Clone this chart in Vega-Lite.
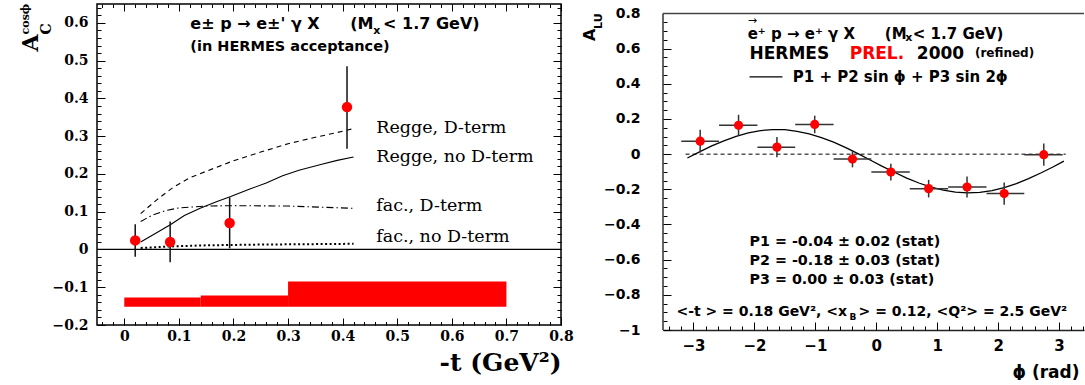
{
  "$schema": "https://vega.github.io/schema/vega-lite/v6.json",
  "background": "white",
  "padding": {"left": 19, "top": 2, "right": 0, "bottom": 0},
  "autosize": {"type": "pad"},
  "bounds": "flush",
  "spacing": 102,
  "config": {
    "font": "DejaVu Sans",
    "view": {"stroke": null},
    "axis": {"grid": false, "tickColor": "#000", "domainColor": "#222", "labelColor": "#000", "titleColor": "#000", "labelFlush": false, "labelOverlap": false, "labelBound": false}
  },
  "datasets": {
    "leftPts": [
      {"t": 0.020, "A": 0.024, "lo": -0.019, "hi": 0.067},
      {"t": 0.084, "A": 0.020, "lo": -0.034, "hi": 0.074},
      {"t": 0.193, "A": 0.070, "lo": 0.003, "hi": 0.138},
      {"t": 0.408, "A": 0.377, "lo": 0.267, "hi": 0.485}
    ],
    "band": [
      {"t0": 0, "t1": 0.14, "lo": -0.152, "hi": -0.127},
      {"t0": 0.14, "t1": 0.3, "lo": -0.152, "hi": -0.122},
      {"t0": 0.3, "t1": 0.7, "lo": -0.152, "hi": -0.085}
    ],
    "curves": [
      {"model": "Regge, D-term", "t": 0.03, "A": 0.095},
      {"model": "Regge, D-term", "t": 0.06, "A": 0.132},
      {"model": "Regge, D-term", "t": 0.09, "A": 0.165},
      {"model": "Regge, D-term", "t": 0.12, "A": 0.19},
      {"model": "Regge, D-term", "t": 0.15, "A": 0.207},
      {"model": "Regge, D-term", "t": 0.2, "A": 0.235},
      {"model": "Regge, D-term", "t": 0.25, "A": 0.258},
      {"model": "Regge, D-term", "t": 0.3, "A": 0.28},
      {"model": "Regge, D-term", "t": 0.35, "A": 0.297},
      {"model": "Regge, D-term", "t": 0.4, "A": 0.313},
      {"model": "Regge, D-term", "t": 0.42, "A": 0.32},
      {"model": "Regge, no D-term", "t": 0.03, "A": 0.02},
      {"model": "Regge, no D-term", "t": 0.06, "A": 0.045},
      {"model": "Regge, no D-term", "t": 0.085, "A": 0.066},
      {"model": "Regge, no D-term", "t": 0.11, "A": 0.09},
      {"model": "Regge, no D-term", "t": 0.14, "A": 0.11},
      {"model": "Regge, no D-term", "t": 0.17, "A": 0.127},
      {"model": "Regge, no D-term", "t": 0.195, "A": 0.14},
      {"model": "Regge, no D-term", "t": 0.23, "A": 0.16},
      {"model": "Regge, no D-term", "t": 0.26, "A": 0.176},
      {"model": "Regge, no D-term", "t": 0.29, "A": 0.195},
      {"model": "Regge, no D-term", "t": 0.32, "A": 0.21},
      {"model": "Regge, no D-term", "t": 0.36, "A": 0.225},
      {"model": "Regge, no D-term", "t": 0.39, "A": 0.236},
      {"model": "Regge, no D-term", "t": 0.42, "A": 0.245},
      {"model": "fac., D-term", "t": 0.03, "A": 0.074},
      {"model": "fac., D-term", "t": 0.05, "A": 0.09},
      {"model": "fac., D-term", "t": 0.075, "A": 0.103},
      {"model": "fac., D-term", "t": 0.1, "A": 0.11},
      {"model": "fac., D-term", "t": 0.15, "A": 0.115},
      {"model": "fac., D-term", "t": 0.2, "A": 0.116},
      {"model": "fac., D-term", "t": 0.3, "A": 0.115},
      {"model": "fac., D-term", "t": 0.36, "A": 0.112},
      {"model": "fac., D-term", "t": 0.42, "A": 0.109},
      {"model": "fac., no D-term", "t": 0.03, "A": 0.004},
      {"model": "fac., no D-term", "t": 0.085, "A": 0.008},
      {"model": "fac., no D-term", "t": 0.15, "A": 0.011},
      {"model": "fac., no D-term", "t": 0.25, "A": 0.013},
      {"model": "fac., no D-term", "t": 0.42, "A": 0.015}
    ],
    "leftLabels": [
      {"x": 0.4615, "y": 0.321, "label": "Regge, D-term"},
      {"x": 0.4615, "y": 0.244, "label": "Regge, no D-term"},
      {"x": 0.4615, "y": 0.114, "label": "fac., D-term"},
      {"x": 0.4615, "y": 0.034, "label": "fac., no D-term"}
    ],
    "leftTitle": [
      {"x": 0.121, "y": 0.596, "label": "e± p → e±' γ X"},
      {"x": 0.414, "y": 0.596, "label": "(M"},
      {"x": 0.474, "y": 0.596, "label": "< 1.7 GeV)"}
    ],
    "leftSub": [{"x": 0.456, "y": 0.578, "label": "x"}],
    "leftTitle2": [{"x": 0.121, "y": 0.535, "label": "(in HERMES acceptance)"}],
    "leftYA": [{"x": -0.1575, "y": 0.5245, "label": "A"}],
    "leftYC": [{"x": -0.1337, "y": 0.5695, "label": "C"}],
    "leftYcos": [{"x": -0.174, "y": 0.5695, "label": "cosϕ"}],
    "rightPts": [
      {"phi": -2.89, "A": 0.074, "lo": 0.009, "hi": 0.139, "p0": -3.20, "p1": -2.58},
      {"phi": -2.26, "A": 0.164, "lo": 0.104, "hi": 0.224, "p0": -2.58, "p1": -1.95},
      {"phi": -1.63, "A": 0.040, "lo": -0.018, "hi": 0.098, "p0": -1.95, "p1": -1.33},
      {"phi": -1.01, "A": 0.169, "lo": 0.119, "hi": 0.219, "p0": -1.33, "p1": -0.70},
      {"phi": -0.39, "A": -0.028, "lo": -0.075, "hi": 0.020, "p0": -0.70, "p1": -0.08},
      {"phi": 0.24, "A": -0.102, "lo": -0.150, "hi": -0.054, "p0": -0.08, "p1": 0.55},
      {"phi": 0.86, "A": -0.196, "lo": -0.246, "hi": -0.146, "p0": 0.55, "p1": 1.18},
      {"phi": 1.49, "A": -0.187, "lo": -0.247, "hi": -0.127, "p0": 1.18, "p1": 1.81},
      {"phi": 2.10, "A": -0.224, "lo": -0.287, "hi": -0.161, "p0": 1.81, "p1": 2.43},
      {"phi": 2.75, "A": -0.003, "lo": -0.066, "hi": 0.060, "p0": 2.43, "p1": 3.06}
    ],
    "fit": [
      {"phi": -3.1, "A": -0.022}, {"phi": -2.9, "A": 0.013}, {"phi": -2.7, "A": 0.047},
      {"phi": -2.5, "A": 0.076}, {"phi": -2.3, "A": 0.101}, {"phi": -2.1, "A": 0.121},
      {"phi": -1.9, "A": 0.134}, {"phi": -1.7, "A": 0.140}, {"phi": -1.5, "A": 0.139},
      {"phi": -1.3, "A": 0.130}, {"phi": -1.1, "A": 0.115}, {"phi": -0.9, "A": 0.094},
      {"phi": -0.7, "A": 0.068}, {"phi": -0.5, "A": 0.037}, {"phi": -0.3, "A": 0.003},
      {"phi": -0.1, "A": -0.033}, {"phi": 0.1, "A": -0.069}, {"phi": 0.3, "A": -0.103},
      {"phi": 0.5, "A": -0.136}, {"phi": 0.7, "A": -0.164}, {"phi": 0.9, "A": -0.188},
      {"phi": 1.1, "A": -0.205}, {"phi": 1.3, "A": -0.216}, {"phi": 1.5, "A": -0.220},
      {"phi": 1.7, "A": -0.217}, {"phi": 1.9, "A": -0.207}, {"phi": 2.1, "A": -0.190},
      {"phi": 2.3, "A": -0.167}, {"phi": 2.5, "A": -0.139}, {"phi": 2.7, "A": -0.107},
      {"phi": 2.9, "A": -0.073}, {"phi": 3.08, "A": -0.040}
    ],
    "rLine1": [
      {"x": -2.11, "y": 0.681, "label": "e⁺ p → e⁺ γ X"},
      {"x": 0.14, "y": 0.681, "label": "(M"},
      {"x": 0.60, "y": 0.681, "label": "< 1.7 GeV)"}
    ],
    "rSub": [{"x": 0.475, "y": 0.661, "label": "x"}],
    "rArrow": [{"x": -2.11, "y": 0.758, "label": "→"}],
    "rLine2": [
      {"x": -2.08, "y": 0.570, "label": "HERMES"},
      {"x": 0.666, "y": 0.570, "label": "2000"}
    ],
    "rPrel": [{"x": -0.436, "y": 0.570, "label": "PREL."}],
    "rRefined": [{"x": 1.62, "y": 0.575, "label": "(refined)"}],
    "rLegend": [{"x": -1.37, "y": 0.439, "label": "P1 + P2 sin ϕ + P3 sin 2ϕ"}],
    "rParams": [
      {"x": -2.08, "y": -0.502, "label": "P1 = -0.04 ± 0.02 (stat)"},
      {"x": -2.08, "y": -0.605, "label": "P2 = -0.18 ± 0.03 (stat)"},
      {"x": -2.08, "y": -0.713, "label": "P3 =  0.00 ± 0.03 (stat)"}
    ],
    "rBottom": [
      {"x": -3.28, "y": -0.899, "label": "<-t > = 0.18 GeV², <x"},
      {"x": -0.29, "y": -0.899, "label": "> = 0.12, <Q²> = 2.5 GeV²"}
    ],
    "rBottomSub": [{"x": -0.44, "y": -0.925, "label": "B"}],
    "rYA": [{"x": -4.611, "y": 0.644, "label": "A"}],
    "rYLU": [{"x": -4.496, "y": 0.712, "label": "LU"}]
  },
  "hconcat": [
    {
      "width": 464,
      "height": 321,
      "view": {"stroke": "#000", "strokeWidth": 1.5},
      "resolve": {"axis": {"x": "independent", "y": "independent"}},
      "layer": [
        {
          "data": {"name": "band"},
          "mark": {"type": "rect", "color": "#ff0000"},
          "encoding": {
            "x": {"field": "t0", "type": "quantitative", "scale": {"domain": [-0.05, 0.8], "nice": false, "zero": false},
              "axis": {"orient": "bottom", "values": [0, 0.1, 0.2, 0.3, 0.4, 0.5, 0.6, 0.7, 0.8], "format": "~g", "domain": false, "tickSize": -7, "tickWidth": 1, "labelFont": "DejaVu Serif", "labelFontWeight": "bold", "labelFontSize": 14, "labelPadding": 11, "title": "-t (GeV²)", "titleFont": "DejaVu Serif", "titleFontWeight": "bold", "titleFontSize": 25, "titleAlign": "right", "titleBaseline": "alphabetic", "titleX": 464, "titleY": 45, "titleAngle": 0}},
            "x2": {"field": "t1"},
            "y": {"field": "lo", "type": "quantitative", "scale": {"domain": [-0.2, 0.65], "nice": false, "zero": false},
              "axis": {"orient": "left", "values": [-0.2, -0.1, 0, 0.1, 0.2, 0.3, 0.4, 0.5, 0.6], "format": "~g", "domain": false, "tickSize": -8, "tickWidth": 1, "labelFont": "DejaVu Serif", "labelFontWeight": "bold", "labelFontSize": 14, "labelPadding": 17, "title": null}},
            "y2": {"field": "hi"}
          }
        },
        {
          "data": {"values": [{}]},
          "mark": {"type": "rule", "color": "#000", "strokeWidth": 1.2},
          "encoding": {
            "y": {"datum": 0, "type": "quantitative", "scale": {"domain": [-0.2, 0.65], "nice": false, "zero": false}, "axis": null}
          }
        },
        {
          "data": {"name": "curves"},
          "transform": [{"filter": "datum.model == 'Regge, D-term'"}],
          "mark": {"type": "line", "color": "#000", "strokeWidth": 1.1, "strokeDash": [5, 4]},
          "encoding": {
            "x": {"field": "t", "type": "quantitative", "scale": {"domain": [-0.05, 0.8], "nice": false, "zero": false},
              "axis": {"orient": "top", "values": [-0.04, -0.02, 0, 0.02, 0.04, 0.06, 0.08, 0.1, 0.12, 0.14, 0.16, 0.18, 0.2, 0.22, 0.24, 0.26, 0.28, 0.3, 0.32, 0.34, 0.36, 0.38, 0.4, 0.42, 0.44, 0.46, 0.48, 0.5, 0.52, 0.54, 0.56, 0.58, 0.6, 0.62, 0.64, 0.66, 0.68, 0.7, 0.72, 0.74, 0.76, 0.78, 0.8], "labels": false, "domain": false, "tickSize": -3.5, "title": null}},
            "y": {"field": "A", "type": "quantitative", "scale": {"domain": [-0.2, 0.65], "nice": false, "zero": false},
              "axis": {"orient": "right", "values": [-0.18, -0.16, -0.14, -0.12, -0.1, -0.08, -0.06, -0.04, -0.02, 0, 0.02, 0.04, 0.06, 0.08, 0.1, 0.12, 0.14, 0.16, 0.18, 0.2, 0.22, 0.24, 0.26, 0.28, 0.3, 0.32, 0.34, 0.36, 0.38, 0.4, 0.42, 0.44, 0.46, 0.48, 0.5, 0.52, 0.54, 0.56, 0.58, 0.6, 0.62, 0.64], "labels": false, "domain": false, "tickSize": -4, "title": null}}
          }
        },
        {
          "data": {"name": "curves"},
          "transform": [{"filter": "datum.model == 'Regge, no D-term'"}],
          "mark": {"type": "line", "color": "#000", "strokeWidth": 1.1},
          "encoding": {
            "x": {"field": "t", "type": "quantitative", "scale": {"domain": [-0.05, 0.8], "nice": false, "zero": false}, "axis": null},
            "y": {"field": "A", "type": "quantitative", "scale": {"domain": [-0.2, 0.65], "nice": false, "zero": false}, "axis": null}
          }
        },
        {
          "data": {"name": "curves"},
          "transform": [{"filter": "datum.model == 'fac., D-term'"}],
          "mark": {"type": "line", "color": "#000", "strokeWidth": 1.1, "strokeDash": [7, 3, 1.5, 3]},
          "encoding": {
            "x": {"field": "t", "type": "quantitative", "scale": {"domain": [-0.05, 0.8], "nice": false, "zero": false}, "axis": null},
            "y": {"field": "A", "type": "quantitative", "scale": {"domain": [-0.2, 0.65], "nice": false, "zero": false}, "axis": null}
          }
        },
        {
          "data": {"name": "curves"},
          "transform": [{"filter": "datum.model == 'fac., no D-term'"}],
          "mark": {"type": "line", "color": "#000", "strokeWidth": 2, "strokeDash": [2, 2.5]},
          "encoding": {
            "x": {"field": "t", "type": "quantitative", "scale": {"domain": [-0.05, 0.8], "nice": false, "zero": false}, "axis": null},
            "y": {"field": "A", "type": "quantitative", "scale": {"domain": [-0.2, 0.65], "nice": false, "zero": false}, "axis": null}
          }
        },
        {
          "data": {"name": "leftPts"},
          "mark": {"type": "rule", "color": "#111", "strokeWidth": 1.5},
          "encoding": {
            "x": {"field": "t", "type": "quantitative", "scale": {"domain": [-0.05, 0.8], "nice": false, "zero": false},
              "axis": {"orient": "bottom", "values": [-0.04, -0.02, 0, 0.02, 0.04, 0.06, 0.08, 0.1, 0.12, 0.14, 0.16, 0.18, 0.2, 0.22, 0.24, 0.26, 0.28, 0.3, 0.32, 0.34, 0.36, 0.38, 0.4, 0.42, 0.44, 0.46, 0.48, 0.5, 0.52, 0.54, 0.56, 0.58, 0.6, 0.62, 0.64, 0.66, 0.68, 0.7, 0.72, 0.74, 0.76, 0.78, 0.8], "labels": false, "domain": false, "tickSize": -3.5, "title": null}},
            "y": {"field": "lo", "type": "quantitative", "scale": {"domain": [-0.2, 0.65], "nice": false, "zero": false},
              "axis": {"orient": "left", "values": [-0.18, -0.16, -0.14, -0.12, -0.1, -0.08, -0.06, -0.04, -0.02, 0, 0.02, 0.04, 0.06, 0.08, 0.1, 0.12, 0.14, 0.16, 0.18, 0.2, 0.22, 0.24, 0.26, 0.28, 0.3, 0.32, 0.34, 0.36, 0.38, 0.4, 0.42, 0.44, 0.46, 0.48, 0.5, 0.52, 0.54, 0.56, 0.58, 0.6, 0.62, 0.64], "labels": false, "domain": false, "tickSize": -4, "title": null}},
            "y2": {"field": "hi"}
          }
        },
        {
          "data": {"name": "leftPts"},
          "mark": {"type": "point", "shape": "circle", "filled": true, "size": 110, "color": "#ff0000", "opacity": 1},
          "encoding": {
            "x": {"field": "t", "type": "quantitative", "scale": {"domain": [-0.05, 0.8], "nice": false, "zero": false},
              "axis": {"orient": "top", "values": [0, 0.1, 0.2, 0.3, 0.4, 0.5, 0.6, 0.7, 0.8], "labels": false, "domain": false, "tickSize": -7, "title": null}},
            "y": {"field": "A", "type": "quantitative", "scale": {"domain": [-0.2, 0.65], "nice": false, "zero": false},
              "axis": {"orient": "right", "values": [-0.1, 0, 0.1, 0.2, 0.3, 0.4, 0.5, 0.6], "labels": false, "domain": false, "tickSize": -8, "title": null}}
          }
        },
        {
          "data": {"name": "leftLabels"},
          "mark": {"type": "text", "font": "DejaVu Serif", "fontSize": 17.5, "align": "left", "baseline": "middle", "color": "#000"},
          "encoding": {
            "x": {"field": "x", "type": "quantitative", "scale": {"domain": [-0.05, 0.8], "nice": false, "zero": false}, "axis": null},
            "y": {"field": "y", "type": "quantitative", "scale": {"domain": [-0.2, 0.65], "nice": false, "zero": false}, "axis": null},
            "text": {"field": "label"}
          }
        },
        {
          "data": {"name": "leftTitle"},
          "mark": {"type": "text", "font": "DejaVu Sans", "fontWeight": "bold", "fontSize": 16, "align": "left", "baseline": "middle", "color": "#000"},
          "encoding": {
            "x": {"field": "x", "type": "quantitative", "scale": {"domain": [-0.05, 0.8], "nice": false, "zero": false}, "axis": null},
            "y": {"field": "y", "type": "quantitative", "scale": {"domain": [-0.2, 0.65], "nice": false, "zero": false}, "axis": null},
            "text": {"field": "label"}
          }
        },
        {
          "data": {"name": "leftSub"},
          "mark": {"type": "text", "font": "DejaVu Sans", "fontWeight": "bold", "fontSize": 11, "align": "left", "baseline": "middle", "color": "#000"},
          "encoding": {
            "x": {"field": "x", "type": "quantitative", "scale": {"domain": [-0.05, 0.8], "nice": false, "zero": false}, "axis": null},
            "y": {"field": "y", "type": "quantitative", "scale": {"domain": [-0.2, 0.65], "nice": false, "zero": false}, "axis": null},
            "text": {"field": "label"}
          }
        },
        {
          "data": {"name": "leftTitle2"},
          "mark": {"type": "text", "font": "DejaVu Sans", "fontWeight": "bold", "fontSize": 14.5, "align": "left", "baseline": "middle", "color": "#000"},
          "encoding": {
            "x": {"field": "x", "type": "quantitative", "scale": {"domain": [-0.05, 0.8], "nice": false, "zero": false}, "axis": null},
            "y": {"field": "y", "type": "quantitative", "scale": {"domain": [-0.2, 0.65], "nice": false, "zero": false}, "axis": null},
            "text": {"field": "label"}
          }
        },
        {
          "data": {"name": "leftYA"},
          "mark": {"type": "text", "font": "DejaVu Serif", "fontWeight": "bold", "fontSize": 22, "align": "left", "baseline": "alphabetic", "angle": 270, "color": "#000"},
          "encoding": {
            "x": {"field": "x", "type": "quantitative", "scale": {"domain": [-0.05, 0.8], "nice": false, "zero": false}, "axis": null},
            "y": {"field": "y", "type": "quantitative", "scale": {"domain": [-0.2, 0.65], "nice": false, "zero": false}, "axis": null},
            "text": {"field": "label"}
          }
        },
        {
          "data": {"name": "leftYC"},
          "mark": {"type": "text", "font": "DejaVu Serif", "fontWeight": "bold", "fontSize": 14, "align": "left", "baseline": "alphabetic", "angle": 270, "color": "#000"},
          "encoding": {
            "x": {"field": "x", "type": "quantitative", "scale": {"domain": [-0.05, 0.8], "nice": false, "zero": false}, "axis": null},
            "y": {"field": "y", "type": "quantitative", "scale": {"domain": [-0.2, 0.65], "nice": false, "zero": false}, "axis": null},
            "text": {"field": "label"}
          }
        },
        {
          "data": {"name": "leftYcos"},
          "mark": {"type": "text", "font": "DejaVu Serif", "fontWeight": "bold", "fontSize": 11, "align": "left", "baseline": "alphabetic", "angle": 270, "color": "#000"},
          "encoding": {
            "x": {"field": "x", "type": "quantitative", "scale": {"domain": [-0.05, 0.8], "nice": false, "zero": false}, "axis": null},
            "y": {"field": "y", "type": "quantitative", "scale": {"domain": [-0.2, 0.65], "nice": false, "zero": false}, "axis": null},
            "text": {"field": "label"}
          }
        }
      ]
    },
    {
      "width": 421,
      "height": 326,
      "view": {"stroke": null},
      "resolve": {"axis": {"x": "independent", "y": "independent"}},
      "layer": [
        {
          "data": {"values": [{}]},
          "mark": {"type": "rule", "color": "#333", "strokeWidth": 1.5},
          "encoding": {
            "x": {"datum": -3.5, "type": "quantitative", "scale": {"domain": [-3.5, 3.41], "nice": false, "zero": false}, "axis": null},
            "y": {"datum": -1, "type": "quantitative", "scale": {"domain": [-1, 0.854], "nice": false, "zero": false}, "axis": null},
            "y2": {"datum": 0.8}
          }
        },
        {
          "data": {"values": [{}]},
          "mark": {"type": "rule", "color": "#444", "strokeWidth": 1.5},
          "encoding": {
            "x": {"datum": -3.5, "type": "quantitative", "scale": {"domain": [-3.5, 3.41], "nice": false, "zero": false}, "axis": null},
            "x2": {"datum": 3.41},
            "y": {"datum": 0.8, "type": "quantitative", "scale": {"domain": [-1, 0.854], "nice": false, "zero": false}, "axis": null}
          }
        },
        {
          "data": {"values": [{}]},
          "mark": {"type": "rule", "color": "#000", "strokeWidth": 1, "strokeDash": [4, 3]},
          "encoding": {
            "x": {"datum": -3.13, "type": "quantitative", "scale": {"domain": [-3.5, 3.41], "nice": false, "zero": false}, "axis": null},
            "x2": {"datum": 3.11},
            "y": {"datum": 0, "type": "quantitative", "scale": {"domain": [-1, 0.854], "nice": false, "zero": false}, "axis": null}
          }
        },
        {
          "data": {"values": [{}]},
          "mark": {"type": "rule", "color": "#000", "strokeWidth": 1.3},
          "encoding": {
            "x": {"datum": -2.08, "type": "quantitative", "scale": {"domain": [-3.5, 3.41], "nice": false, "zero": false}, "axis": null},
            "x2": {"datum": -1.54},
            "y": {"datum": 0.439, "type": "quantitative", "scale": {"domain": [-1, 0.854], "nice": false, "zero": false}, "axis": null}
          }
        },
        {
          "data": {"name": "fit"},
          "mark": {"type": "line", "color": "#000", "strokeWidth": 1.3},
          "encoding": {
            "x": {"field": "phi", "type": "quantitative", "scale": {"domain": [-3.5, 3.41], "nice": false, "zero": false}, "axis": null},
            "y": {"field": "A", "type": "quantitative", "scale": {"domain": [-1, 0.854], "nice": false, "zero": false}, "axis": null}
          }
        },
        {
          "data": {"name": "rightPts"},
          "mark": {"type": "rule", "color": "#333", "strokeWidth": 1.5},
          "encoding": {
            "x": {"field": "phi", "type": "quantitative", "scale": {"domain": [-3.5, 3.41], "nice": false, "zero": false},
              "axis": {"orient": "bottom", "values": [-3, -2, -1, 0, 1, 2, 3], "format": "~g", "domain": true, "domainColor": "#222", "domainWidth": 1.5, "tickSize": -8, "tickWidth": 1, "labelFont": "DejaVu Sans", "labelFontWeight": "bold", "labelFontSize": 15, "labelPadding": 16, "title": "ϕ (rad)", "titleFont": "DejaVu Sans", "titleFontWeight": "bold", "titleFontSize": 17, "titleAlign": "left", "titleBaseline": "alphabetic", "titleX": 349, "titleY": 47}},
            "y": {"field": "lo", "type": "quantitative", "scale": {"domain": [-1, 0.854], "nice": false, "zero": false},
              "axis": {"orient": "left", "values": [-1, -0.8, -0.6, -0.4, -0.2, 0, 0.2, 0.4, 0.6, 0.8], "format": "~g", "domain": false, "tickSize": -8, "tickWidth": 1, "labelFont": "DejaVu Sans", "labelFontWeight": "bold", "labelFontSize": 14, "labelPadding": 31, "title": null}},
            "y2": {"field": "hi"}
          }
        },
        {
          "data": {"name": "rightPts"},
          "mark": {"type": "rule", "color": "#333", "strokeWidth": 1.5},
          "encoding": {
            "x": {"field": "p0", "type": "quantitative", "scale": {"domain": [-3.5, 3.41], "nice": false, "zero": false},
              "axis": {"orient": "bottom", "values": [-3.4, -3.2, -3, -2.8, -2.6, -2.4, -2.2, -2, -1.8, -1.6, -1.4, -1.2, -1, -0.8, -0.6, -0.4, -0.2, 0, 0.2, 0.4, 0.6, 0.8, 1, 1.2, 1.4, 1.6, 1.8, 2, 2.2, 2.4, 2.6, 2.8, 3, 3.2, 3.4], "labels": false, "domain": false, "tickSize": -4, "title": null}},
            "x2": {"field": "p1"},
            "y": {"field": "A", "type": "quantitative", "scale": {"domain": [-1, 0.854], "nice": false, "zero": false},
              "axis": {"orient": "left", "values": [-1, -0.95, -0.9, -0.85, -0.8, -0.75, -0.7, -0.65, -0.6, -0.55, -0.5, -0.45, -0.4, -0.35, -0.3, -0.25, -0.2, -0.15, -0.1, -0.05, 0, 0.05, 0.1, 0.15, 0.2, 0.25, 0.3, 0.35, 0.4, 0.45, 0.5, 0.55, 0.6, 0.65, 0.7, 0.75, 0.8], "labels": false, "domain": false, "tickSize": -4, "title": null}}
          }
        },
        {
          "data": {"name": "rightPts"},
          "mark": {"type": "point", "shape": "circle", "filled": true, "size": 85, "color": "#ff0000", "opacity": 1},
          "encoding": {
            "x": {"field": "phi", "type": "quantitative", "scale": {"domain": [-3.5, 3.41], "nice": false, "zero": false}, "axis": null},
            "y": {"field": "A", "type": "quantitative", "scale": {"domain": [-1, 0.854], "nice": false, "zero": false}, "axis": null}
          }
        },
        {
          "data": {"name": "rLine1"},
          "mark": {"type": "text", "font": "DejaVu Sans", "fontWeight": "bold", "fontSize": 15, "align": "left", "baseline": "middle", "color": "#000"},
          "encoding": {
            "x": {"field": "x", "type": "quantitative", "scale": {"domain": [-3.5, 3.41], "nice": false, "zero": false}, "axis": null},
            "y": {"field": "y", "type": "quantitative", "scale": {"domain": [-1, 0.854], "nice": false, "zero": false}, "axis": null},
            "text": {"field": "label"}
          }
        },
        {
          "data": {"name": "rSub"},
          "mark": {"type": "text", "font": "DejaVu Sans", "fontWeight": "bold", "fontSize": 11, "align": "left", "baseline": "middle", "color": "#000"},
          "encoding": {
            "x": {"field": "x", "type": "quantitative", "scale": {"domain": [-3.5, 3.41], "nice": false, "zero": false}, "axis": null},
            "y": {"field": "y", "type": "quantitative", "scale": {"domain": [-1, 0.854], "nice": false, "zero": false}, "axis": null},
            "text": {"field": "label"}
          }
        },
        {
          "data": {"name": "rArrow"},
          "mark": {"type": "text", "font": "DejaVu Sans", "fontSize": 11, "align": "left", "baseline": "middle", "color": "#000"},
          "encoding": {
            "x": {"field": "x", "type": "quantitative", "scale": {"domain": [-3.5, 3.41], "nice": false, "zero": false}, "axis": null},
            "y": {"field": "y", "type": "quantitative", "scale": {"domain": [-1, 0.854], "nice": false, "zero": false}, "axis": null},
            "text": {"field": "label"}
          }
        },
        {
          "data": {"name": "rLine2"},
          "mark": {"type": "text", "font": "DejaVu Sans", "fontWeight": "bold", "fontSize": 17, "align": "left", "baseline": "middle", "color": "#000"},
          "encoding": {
            "x": {"field": "x", "type": "quantitative", "scale": {"domain": [-3.5, 3.41], "nice": false, "zero": false}, "axis": null},
            "y": {"field": "y", "type": "quantitative", "scale": {"domain": [-1, 0.854], "nice": false, "zero": false}, "axis": null},
            "text": {"field": "label"}
          }
        },
        {
          "data": {"name": "rPrel"},
          "mark": {"type": "text", "font": "DejaVu Sans", "fontWeight": "bold", "fontSize": 17, "align": "left", "baseline": "middle", "color": "#ff0000"},
          "encoding": {
            "x": {"field": "x", "type": "quantitative", "scale": {"domain": [-3.5, 3.41], "nice": false, "zero": false}, "axis": null},
            "y": {"field": "y", "type": "quantitative", "scale": {"domain": [-1, 0.854], "nice": false, "zero": false}, "axis": null},
            "text": {"field": "label"}
          }
        },
        {
          "data": {"name": "rRefined"},
          "mark": {"type": "text", "font": "DejaVu Sans", "fontWeight": "bold", "fontSize": 12, "align": "left", "baseline": "middle", "color": "#000"},
          "encoding": {
            "x": {"field": "x", "type": "quantitative", "scale": {"domain": [-3.5, 3.41], "nice": false, "zero": false}, "axis": null},
            "y": {"field": "y", "type": "quantitative", "scale": {"domain": [-1, 0.854], "nice": false, "zero": false}, "axis": null},
            "text": {"field": "label"}
          }
        },
        {
          "data": {"name": "rLegend"},
          "mark": {"type": "text", "font": "DejaVu Sans", "fontWeight": "bold", "fontSize": 15, "align": "left", "baseline": "middle", "color": "#000"},
          "encoding": {
            "x": {"field": "x", "type": "quantitative", "scale": {"domain": [-3.5, 3.41], "nice": false, "zero": false}, "axis": null},
            "y": {"field": "y", "type": "quantitative", "scale": {"domain": [-1, 0.854], "nice": false, "zero": false}, "axis": null},
            "text": {"field": "label"}
          }
        },
        {
          "data": {"name": "rParams"},
          "mark": {"type": "text", "font": "DejaVu Sans", "fontWeight": "bold", "fontSize": 14.3, "align": "left", "baseline": "middle", "color": "#000"},
          "encoding": {
            "x": {"field": "x", "type": "quantitative", "scale": {"domain": [-3.5, 3.41], "nice": false, "zero": false}, "axis": null},
            "y": {"field": "y", "type": "quantitative", "scale": {"domain": [-1, 0.854], "nice": false, "zero": false}, "axis": null},
            "text": {"field": "label"}
          }
        },
        {
          "data": {"name": "rBottom"},
          "mark": {"type": "text", "font": "DejaVu Sans", "fontWeight": "bold", "fontSize": 14, "align": "left", "baseline": "middle", "color": "#000"},
          "encoding": {
            "x": {"field": "x", "type": "quantitative", "scale": {"domain": [-3.5, 3.41], "nice": false, "zero": false}, "axis": null},
            "y": {"field": "y", "type": "quantitative", "scale": {"domain": [-1, 0.854], "nice": false, "zero": false}, "axis": null},
            "text": {"field": "label"}
          }
        },
        {
          "data": {"name": "rBottomSub"},
          "mark": {"type": "text", "font": "DejaVu Sans", "fontWeight": "bold", "fontSize": 9, "align": "left", "baseline": "middle", "color": "#000"},
          "encoding": {
            "x": {"field": "x", "type": "quantitative", "scale": {"domain": [-3.5, 3.41], "nice": false, "zero": false}, "axis": null},
            "y": {"field": "y", "type": "quantitative", "scale": {"domain": [-1, 0.854], "nice": false, "zero": false}, "axis": null},
            "text": {"field": "label"}
          }
        },
        {
          "data": {"name": "rYA"},
          "mark": {"type": "text", "font": "DejaVu Sans", "fontWeight": "bold", "fontSize": 16, "align": "left", "baseline": "alphabetic", "angle": 270, "color": "#000"},
          "encoding": {
            "x": {"field": "x", "type": "quantitative", "scale": {"domain": [-3.5, 3.41], "nice": false, "zero": false}, "axis": null},
            "y": {"field": "y", "type": "quantitative", "scale": {"domain": [-1, 0.854], "nice": false, "zero": false}, "axis": null},
            "text": {"field": "label"}
          }
        },
        {
          "data": {"name": "rYLU"},
          "mark": {"type": "text", "font": "DejaVu Sans", "fontWeight": "bold", "fontSize": 11, "align": "left", "baseline": "alphabetic", "angle": 270, "color": "#000"},
          "encoding": {
            "x": {"field": "x", "type": "quantitative", "scale": {"domain": [-3.5, 3.41], "nice": false, "zero": false}, "axis": null},
            "y": {"field": "y", "type": "quantitative", "scale": {"domain": [-1, 0.854], "nice": false, "zero": false}, "axis": null},
            "text": {"field": "label"}
          }
        }
      ]
    }
  ]
}
